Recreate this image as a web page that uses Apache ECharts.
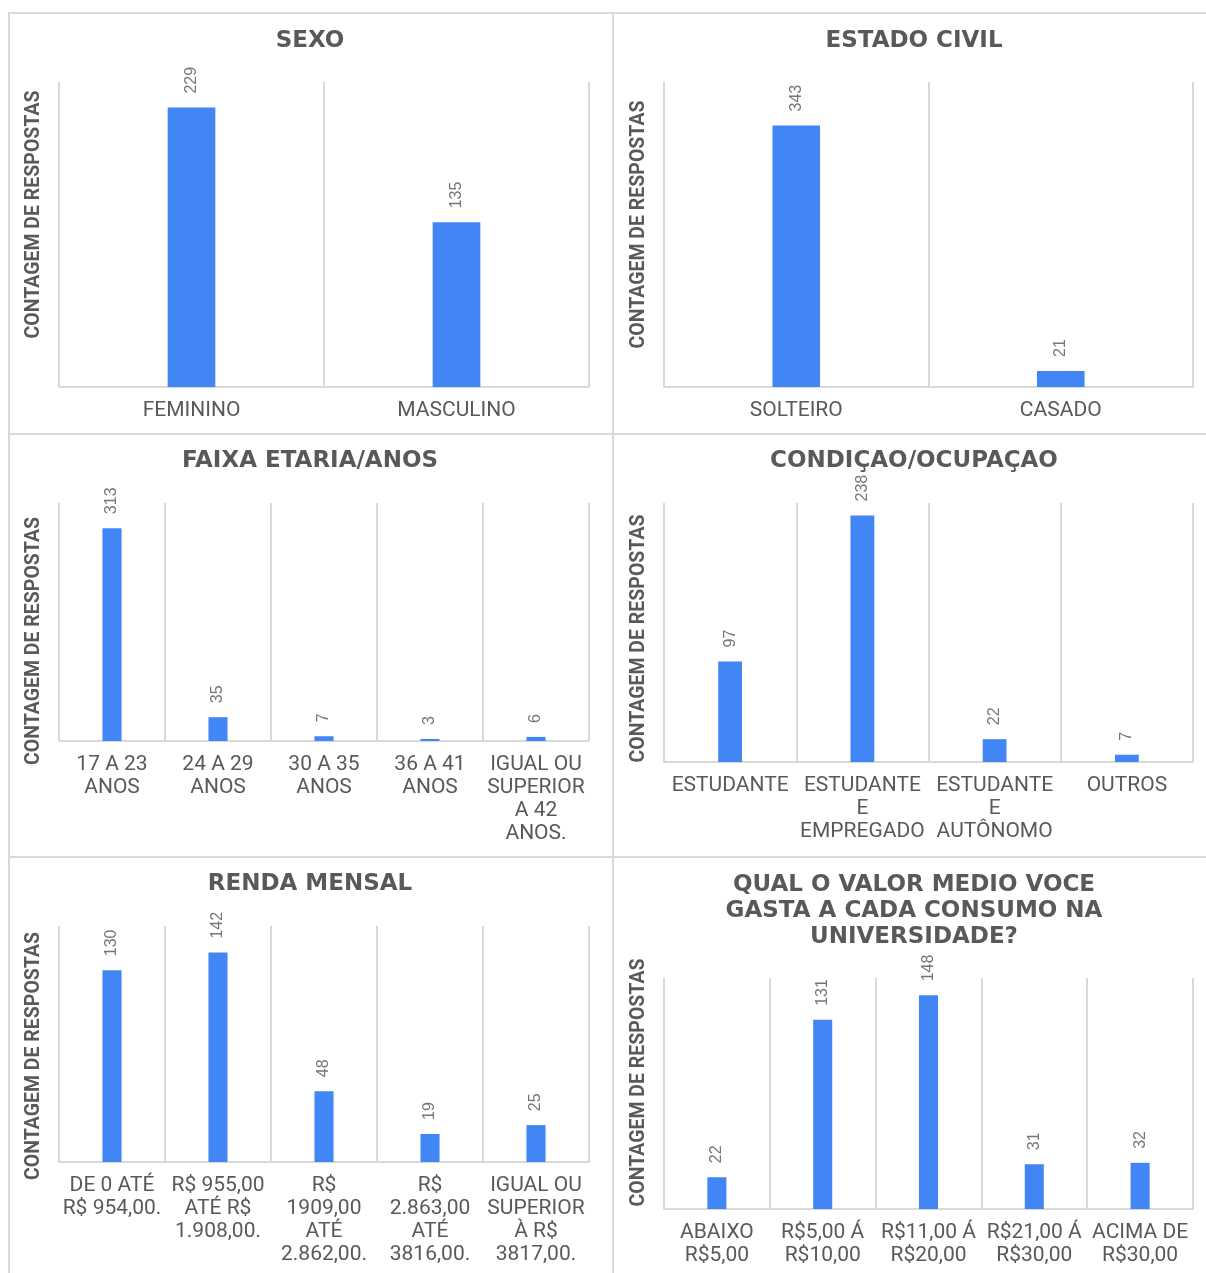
<!DOCTYPE html>
<html>
<head>
<meta charset="utf-8">
<title>Perfil dos respondentes</title>
<script src="https://cdn.jsdelivr.net/npm/echarts@6/dist/echarts.min.js"></script>
<style>
  html, body { margin: 0; padding: 0; background: #fff; }
  #chart { width: 1206px; height: 1273px; }
</style>
</head>
<body>
<div id="chart"></div>
<script>
// dados
const sexoCats = ['FEMININO', 'MASCULINO']
const sexoVals = [229, 135]

const civilCats = ['SOLTEIRO', 'CASADO']
const civilVals = [343, 21]

const faixaCats = ['17 A 23\nANOS', '24 A 29\nANOS', '30 A 35\nANOS', '36 A 41\nANOS', 'IGUAL OU\nSUPERIOR\nA 42\nANOS.']
const faixaVals = [313, 35, 7, 3, 6]

const ocupCats = ['ESTUDANTE', 'ESTUDANTE\nE\nEMPREGADO', 'ESTUDANTE\nE\nAUTÔNOMO', 'OUTROS']
const ocupVals = [97, 238, 22, 7]

const rendaCats = ['DE 0 ATÉ\nR$ 954,00.', 'R$ 955,00\nATÉ R$\n1.908,00.', 'R$\n1909,00\nATÉ\n2.862,00.', 'R$\n2.863,00\nATÉ\n3816,00.', 'IGUAL OU\nSUPERIOR\nÀ R$\n3817,00.']
const rendaVals = [130, 142, 48, 19, 25]

const gastoCats = ['ABAIXO\nR$5,00', 'R$5,00 Á\nR$10,00', 'R$11,00 Á\nR$20,00', 'R$21,00 Á\nR$30,00', 'ACIMA DE\nR$30,00']
const gastoVals = [22, 131, 148, 31, 32]

const yName = 'CONTAGEM DE RESPOSTAS'
const gray = '#595959'
const lineGray = '#d9d9d9'

// painéis: título, categorias, valores, máximo do eixo, caixa do grid
// nameShift: deslocamento vertical do nome do eixo y (negativo = para cima)
const panels = [
  { title: 'SEXO', cats: sexoCats, vals: sexoVals, max: 250, tx: 310, ty: 41, grid: [59, 82, 530, 305], nameShift: -20 },
  { title: 'ESTADO CIVIL', cats: civilCats, vals: civilVals, max: 400, tx: 914, ty: 41, grid: [664, 82, 529, 305], nameShift: -10 },
  { title: 'FAIXA ETARIA/ANOS', cats: faixaCats, vals: faixaVals, max: 350, tx: 310, ty: 461, grid: [59, 503, 530, 238], nameShift: 19 },
  { title: 'CONDIÇAO/OCUPAÇAO', cats: ocupCats, vals: ocupVals, max: 250, tx: 914, ty: 461, grid: [664, 503, 529, 259], nameShift: 6 },
  { title: 'RENDA MENSAL', cats: rendaCats, vals: rendaVals, max: 160, tx: 310, ty: 884, grid: [59, 926, 530, 236], nameShift: 12 },
  { title: 'QUAL O VALOR MEDIO VOCE\nGASTA A CADA CONSUMO NA\nUNIVERSIDADE?', cats: gastoCats, vals: gastoVals, max: 160, tx: 914, ty: 911, grid: [664, 978, 529, 231], nameShift: -11 },
]

function namePadding(shift) {
  // o nome é girado 90°, o padding à esquerda empurra o texto para cima
  return shift < 0 ? [0, 0, 0, -2 * shift] : [0, 2 * shift, 0, 0]
}

function initCharts() {
  const el = document.getElementById('chart')
  const myChart = echarts.init(el)

  const option = {
    animation: false,
    backgroundColor: '#fff',
    title: panels.map((p) => ({
      text: p.title,
      left: p.tx,
      top: p.ty,
      padding: 0,
      textAlign: 'center',
      textVerticalAlign: 'middle',
      textStyle: {
        fontFamily: 'DejaVu Sans',
        fontWeight: 'bold',
        fontSize: 23,
        lineHeight: 26,
        color: gray,
      },
    })),
    grid: panels.map((p) => ({
      left: p.grid[0],
      top: p.grid[1],
      width: p.grid[2],
      height: p.grid[3],
    })),
    xAxis: panels.map((p, i) => ({
      type: 'category',
      gridIndex: i,
      data: p.cats,
      axisTick: { show: false },
      axisLine: { lineStyle: { color: lineGray, width: 2 } },
      splitLine: { show: true, lineStyle: { color: lineGray, width: 2 } },
      axisLabel: {
        interval: 0,
        margin: 12,
        color: gray,
        fontFamily: 'Roboto',
        fontSize: 21,
        lineHeight: 23,
      },
    })),
    yAxis: panels.map((p, i) => ({
      type: 'value',
      gridIndex: i,
      min: 0,
      max: p.max,
      name: yName,
      nameLocation: 'middle',
      nameGap: 15,
      nameTextStyle: {
        fontFamily: 'Roboto',
        fontWeight: 'bold',
        fontSize: 19.5,
        color: gray,
        padding: namePadding(p.nameShift),
      },
      axisLine: { show: false },
      axisTick: { show: false },
      axisLabel: { show: false },
      splitLine: { show: false },
    })),
    series: panels.map((p, i) => ({
      type: 'bar',
      xAxisIndex: i,
      yAxisIndex: i,
      data: p.vals,
      barWidth: '18%',
      itemStyle: { color: '#4285f4' },
      label: {
        show: true,
        position: 'top',
        rotate: 90,
        align: 'left',
        verticalAlign: 'middle',
        distance: 14,
        color: '#767676',
        fontFamily: 'Liberation Sans',
        fontSize: 16,
      },
    })),
    // bordas dos painéis
    graphic: [
      { type: 'line', shape: { x1: 8, y1: 13, x2: 1206, y2: 13 }, style: { stroke: lineGray, lineWidth: 2 } },
      { type: 'line', shape: { x1: 9, y1: 13, x2: 9, y2: 1273 }, style: { stroke: lineGray, lineWidth: 2 } },
      { type: 'line', shape: { x1: 613, y1: 13, x2: 613, y2: 1273 }, style: { stroke: lineGray, lineWidth: 2 } },
      { type: 'line', shape: { x1: 8, y1: 434, x2: 1206, y2: 434 }, style: { stroke: lineGray, lineWidth: 2 } },
      { type: 'line', shape: { x1: 8, y1: 857, x2: 1206, y2: 857 }, style: { stroke: lineGray, lineWidth: 2 } },
    ],
  }
  myChart.setOption(option)
  window.addEventListener('resize', () => {
    myChart.resize()
  })
}

initCharts()
</script>
</body>
</html>
